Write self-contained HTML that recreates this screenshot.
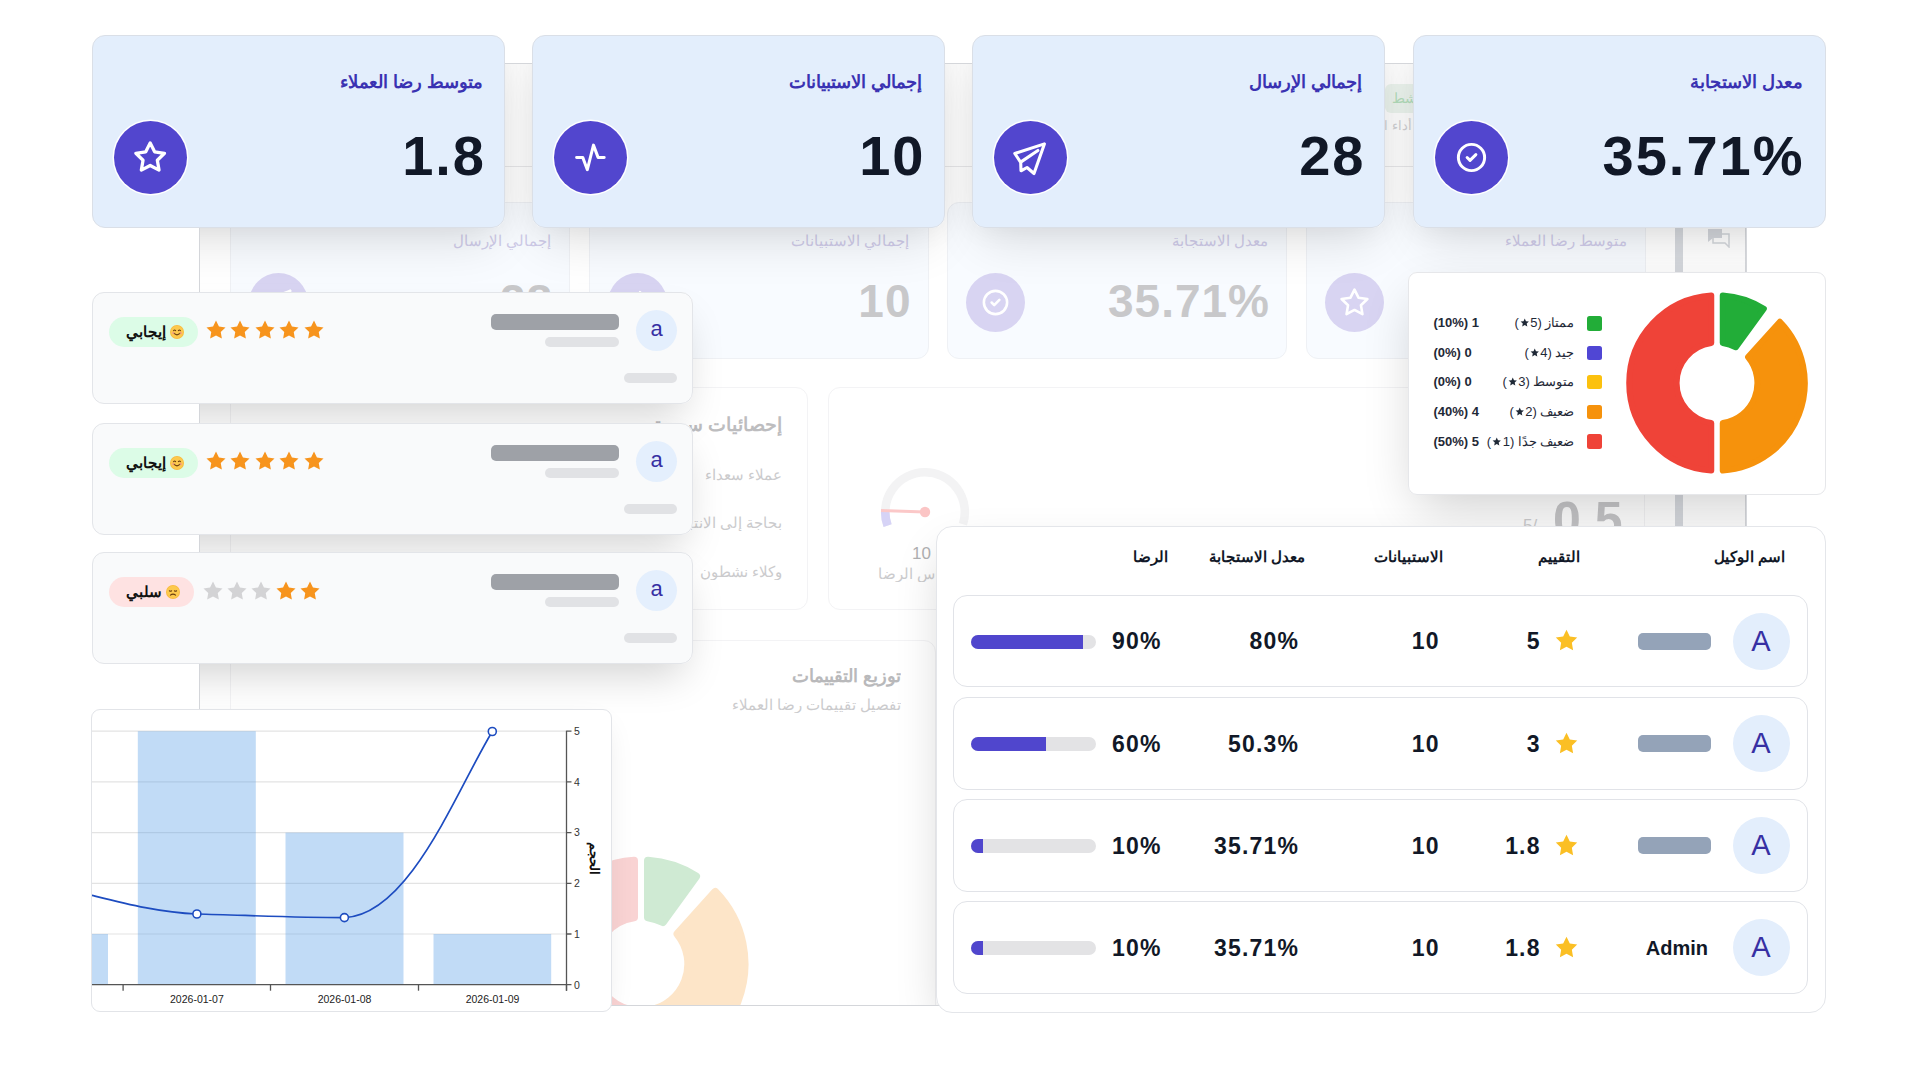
<!DOCTYPE html>
<html lang="ar">
<head>
<meta charset="utf-8">
<title>Dashboard</title>
<style>
*{box-sizing:border-box;margin:0;padding:0}
html,body{width:1920px;height:1067px;overflow:hidden;background:#fff}
body{position:relative;font-family:"Liberation Sans",sans-serif;color:#111827}
.abs{position:absolute}
.rtl{direction:rtl}
.ltr{direction:ltr;unicode-bidi:isolate}
/* background panel */
#panel{position:absolute;left:199px;top:63px;width:1548px;height:943px;overflow:hidden;background:#fff}

.pg{position:absolute;left:-199px;top:-63px;width:1920px;height:1067px}
.sc{position:absolute;background:#fff;box-shadow:0 22px 50px -10px rgba(0,0,0,.12),0 0 30px rgba(0,0,0,.06)}
.sc2{position:absolute;background:#fff;box-shadow:0 20px 40px -10px rgba(0,0,0,.18)}
.sc3{position:absolute;background:#fff;box-shadow:0 20px 50px -10px rgba(0,0,0,.2)}
.sc4{position:absolute;background:#fff;box-shadow:0 10px 30px -10px rgba(0,0,0,.12)}
.fc{position:absolute;top:202px;width:340px;height:157px;background:#f8fbff;border:1px solid #eff1f5;border-radius:12px}
.fc .ft{position:absolute;right:18px;top:29px;font-size:15px;color:#cfcbe9;direction:rtl;white-space:nowrap}
.fc .fn{position:absolute;right:16px;top:71px;font-size:46px;font-weight:700;color:#c8c8ca;direction:ltr;white-space:nowrap;letter-spacing:1px}
.fc .fi{position:absolute;left:18px;top:70px;width:59px;height:59px;border-radius:50%;background:#d8d4f2}
.fc .fi svg{position:absolute;left:14px;top:14px;width:31px;height:31px}
.fb{position:absolute;background:#fff;border:1px solid #f3f3f5;border-radius:12px}
#pborder{position:absolute;left:199px;top:63px;width:1548px;height:943px;border:1.5px solid #d4d6da;pointer-events:none}
.lg{font-size:13px;line-height:18px;color:#1f2937;direction:rtl;white-space:nowrap}
.lc{font-size:13px;line-height:18px;color:#1f2937;direction:ltr;white-space:nowrap;font-weight:700}
.th{position:absolute;top:547px;font-size:15px;font-weight:700;color:#111827;direction:rtl;white-space:nowrap;line-height:20px}
.tr{position:absolute;left:952.5px;width:855px;height:92.5px;background:#fff;border:1.5px solid #e1e3e8;border-radius:14px}
.tav{position:absolute;left:1732.5px;width:57px;height:57px;border-radius:50%;background:#e3eefc;color:#3730a3;font-size:29px;line-height:57px;text-align:center}
.tbar{position:absolute;left:1638px;width:72.5px;height:17px;border-radius:5px;background:#94a3b8}
.tname{position:absolute;right:212px;font-size:20px;font-weight:700;color:#111827;line-height:24px}
.tn{position:absolute;font-size:23px;font-weight:700;color:#111827;line-height:26px;direction:ltr;white-space:nowrap;letter-spacing:1.2px}
.tpb{position:absolute;left:970.5px;width:125px;height:14px;border-radius:7px;background:#e3e3e5;overflow:hidden}
.tpb div{height:100%;background:#5046cd}
/* top cards */
.tc{position:absolute;top:35px;width:413px;height:193px;background:#e3eefc;border:1.5px solid #dadfe7;border-radius:13px}
.tc .t{position:absolute;right:21px;top:35px;font-size:18px;font-weight:700;color:#3a32b2;direction:rtl;white-space:nowrap}
.tc .n{position:absolute;right:18px;top:87px;font-size:56px;font-weight:700;color:#111827;direction:ltr;white-space:nowrap;letter-spacing:2px}
.tc .ic{position:absolute;left:21px;top:85px;width:73px;height:73px;border-radius:50%;background:#5246ce;box-shadow:0 0 0 1.5px #fff}
.tc .ic svg{position:absolute}
/* review cards */
.rc{position:absolute;left:92px;width:601px;height:112px;background:#f9fafb;border:1.5px solid #e3e5e9;border-radius:12px}
.rc .av{position:absolute;left:543px;top:17px;width:41px;height:41px;border-radius:50%;background:#e4effd;color:#3730a3;font-size:22px;text-align:center;line-height:38px}
.rc .b1{position:absolute;left:398px;top:21px;width:128px;height:16px;border-radius:5px;background:#9ea1a7}
.rc .b2{position:absolute;left:452px;top:44px;width:74px;height:10px;border-radius:5px;background:#e1e2e5}
.rc .b3{position:absolute;left:531px;top:80px;width:53px;height:10px;border-radius:5px;background:#e1e2e5}
.rc .badge{position:absolute;left:16px;top:24px;height:30px;border-radius:15px;font-size:15px;font-weight:700;color:#111;direction:rtl;white-space:nowrap;line-height:30px;padding:0 14px 0 14px}
.rc .stars{position:absolute;left:111px;top:25.5px;height:24px}
.rc3 .stars{left:107.5px}
</style>
</head>
<body>

<div id="panel">
 <div class="pg">

  <!-- faded header bits -->
  <div class="abs rtl" style="left:1385px;top:84px;width:60px;height:29px;background:#edf5ef;border-radius:6px"></div>
  <div class="ar abs rtl" style="width:30px;overflow:hidden;right:499px;top:90px;font-size:14px;color:#b5dfbd;white-space:nowrap">نشط</div>
  <div class="ar abs rtl" style="width:60px;overflow:hidden;right:508px;top:118px;font-size:13px;color:#d2d2d5;white-space:nowrap">أداء الوكلاء</div>

  <div class="abs" style="left:229px;top:166px;width:1416px;height:1px;background:#e9e9eb"></div>
  <!-- faded stat cards -->
  <div class="fc" style="left:230px">
    <div class="ar ft" style="width:100px;overflow:hidden;">إجمالي الإرسال</div><div class="fn">28</div>
    <div class="fi"><svg viewBox="0 0 24 24" fill="none" stroke="#fff" stroke-width="2" stroke-linecap="round" stroke-linejoin="round"><path d="M10 14l11 -11"/><path d="M21 3l-6.5 18a.55 .55 0 0 1 -1 0l-3.5 -7l-7 -3.5a.55 .55 0 0 1 0 -1l18 -6.5"/></svg></div>
  </div>
  <div class="fc" style="left:588.5px">
    <div class="ar ft" style="width:120px;overflow:hidden;">إجمالي الاستبيانات</div><div class="fn">10</div>
    <div class="fi"><svg viewBox="0 0 24 24" fill="none" stroke="#fff" stroke-width="2" stroke-linecap="round" stroke-linejoin="round"><path d="M3 12h4l3 8l4 -16l3 8h4"/></svg></div>
  </div>
  <div class="fc" style="left:947px">
    <div class="ar ft" style="width:98px;overflow:hidden;">معدل الاستجابة</div><div class="fn">35.71%</div>
    <div class="fi"><svg viewBox="0 0 24 24" fill="none" stroke="#fff" stroke-width="2" stroke-linecap="round" stroke-linejoin="round"><path d="M3 12a9 9 0 1 0 18 0a9 9 0 1 0 -18 0"/><path d="M9 12l2 2l4 -4"/></svg></div>
  </div>
  <div class="fc" style="left:1306px">
    <div class="ar ft" style="width:124px;overflow:hidden;">متوسط رضا العملاء</div><div class="fn">1.8</div>
    <div class="fi"><svg viewBox="0 0 24 24" fill="none" stroke="#fff" stroke-width="2" stroke-linecap="round" stroke-linejoin="round"><path d="M12 17.75l-6.172 3.245l1.179 -6.873l-5 -4.867l6.9 -1l3.086 -6.253l3.086 6.253l6.9 1l-5 4.867l1.179 6.873z"/></svg></div>
  </div>

  <!-- quick stats card -->
  <div class="fb" style="left:230px;top:387px;width:578px;height:223px">
    <div class="ar abs rtl" style="width:131px;overflow:hidden;right:25px;top:25px;font-size:19px;font-weight:700;color:#bdbdbf;white-space:nowrap">إحصائيات سريعة</div>
    <div class="ar abs rtl" style="width:79px;overflow:hidden;right:25px;top:79px;font-size:14.5px;color:#cbcbcd;white-space:nowrap">عملاء سعداء</div>
    <div class="ar abs rtl" style="width:108px;overflow:hidden;right:25px;top:127px;font-size:14.5px;color:#cbcbcd;white-space:nowrap">بحاجة إلى الانتباه</div>
    <div class="ar abs rtl" style="width:84px;overflow:hidden;right:25px;top:176px;font-size:14.5px;color:#cbcbcd;white-space:nowrap">وكلاء نشطون</div>
  </div>
  <!-- gauge card -->
  <div class="fb" style="left:828px;top:387px;width:817px;height:223px">
    <svg class="abs" style="left:40px;top:68px" width="112" height="112" viewBox="-56 -56 112 112">
      <path d="M -37.4 13.6 A 39.8 39.8 0 1 1 37.9 12.3" fill="none" stroke="#f3f3f4" stroke-width="8.6"/>
      <path d="M -37.4 13.6 A 39.8 39.8 0 0 1 -39.8 0" fill="none" stroke="#d6d3f6" stroke-width="8.6"/>
      <line x1="0" y1="0" x2="-44" y2="-1.5" stroke="#fbc8c8" stroke-width="3"/>
      <circle cx="0" cy="0" r="5.2" fill="#fbc5c5"/>
    </svg>
    <div class="abs" style="left:83px;top:156px;font-size:17px;color:#b0b0b2;white-space:nowrap">10</div>
    <div class="ar abs rtl" style="width:85px;overflow:hidden;right:683px;top:178px;font-size:14.5px;color:#cbcbcd;white-space:nowrap">مقياس الرضا</div>
    <div class="abs" style="left:724px;top:103px;font-size:50px;font-weight:700;color:#c6c6c8;white-space:nowrap;direction:ltr">0.5</div>
    <div class="abs" style="left:694px;top:128px;font-size:17px;color:#cfcfd1;white-space:nowrap;direction:ltr">5/</div>
  </div>

  <!-- rating distribution card -->
  <div class="fb" style="left:230px;top:640px;width:706px;height:400px">
    <div class="ar abs rtl" style="width:111px;overflow:hidden;right:34px;top:24px;font-size:18px;font-weight:700;color:#b9b9bb;white-space:nowrap">توزيع التقييمات</div>
    <div class="ar abs rtl" style="width:171px;overflow:hidden;right:34px;top:56px;font-size:14.5px;color:#cbcbcd;white-space:nowrap">تفصيل تقييمات رضا العملاء</div>
    <svg class="abs" style="left:290px;top:203px" width="240" height="240" viewBox="-120 -120 240 240">
      <g stroke-width="8" stroke-linejoin="round"><path d="M7.00 -103.26A103.50 103.50 0 0 1 55.03 -87.66L21.83 -41.96A47.30 47.30 0 0 0 7.00 -46.78Z" fill="#cfead3" stroke="#cfead3"/><path d="M74.30 -72.06A103.50 103.50 0 0 1 7.00 103.26L7.00 46.78A47.30 47.30 0 0 0 36.50 -30.08Z" fill="#fde5c8" stroke="#fde5c8"/><path d="M-7.00 103.26A103.50 103.50 0 0 1 -7.00 -103.26L-7.00 -46.78A47.30 47.30 0 0 0 -7.00 46.78Z" fill="#f9d3d3" stroke="#f9d3d3"/></g>
    </svg>
  </div>

  <!-- sidebar -->
  <div class="abs" style="left:1675px;top:63px;width:7.5px;height:943px;background:#d6d9de"></div>
  <div class="abs" style="left:1745px;top:63px;width:2px;height:943px;background:#d8dade"></div>
  <svg class="abs" style="left:1707px;top:228px" width="24" height="20" viewBox="0 0 24 20"><path d="M1 1h14v9h-9l-5 4z" fill="#d4d7dc"/><path d="M6 6h16v9v4l-4 -4h-12z" fill="none" stroke="#d4d7dc" stroke-width="1.5"/></svg>

  <!-- more shadow casters -->
  <div class="sc" style="left:92px;top:35px;width:413px;height:193px;border-radius:13px"></div>
  <div class="sc" style="left:531.5px;top:35px;width:413px;height:193px;border-radius:13px"></div>
  <div class="sc" style="left:971.5px;top:35px;width:413px;height:193px;border-radius:13px"></div>
  <div class="sc" style="left:1412.5px;top:35px;width:413px;height:193px;border-radius:13px"></div>
  <div class="sc2" style="left:92px;top:291.5px;width:601px;height:112px;border-radius:12px"></div>
  <div class="sc2" style="left:92px;top:422.5px;width:601px;height:112px;border-radius:12px"></div>
  <div class="sc2" style="left:92px;top:552px;width:601px;height:112px;border-radius:12px"></div>
  <div class="sc3" style="left:1407.5px;top:271.5px;width:418px;height:223px;border-radius:9px"></div>
  <div class="sc3" style="left:936px;top:525.5px;width:889px;height:487px;border-radius:16px"></div>
  <div class="sc4" style="left:90.5px;top:709px;width:521px;height:303px;border-radius:9px"></div>
 </div>
</div>

<div id="pborder"></div>

<!-- TOP CARDS -->
<div class="tc" style="left:92px">
  <div class="ar t" style="width:145px;overflow:hidden;">متوسط رضا العملاء</div>
  <div class="n">1.8</div>
  <div class="ic"><svg style="left:19.3px;top:19.3px;width:34.4px;height:34.4px" viewBox="0 0 24 24" fill="none" stroke="#fff" stroke-width="2.3" stroke-linecap="round" stroke-linejoin="round"><path d="M12 17.75l-6.172 3.245l1.179 -6.873l-5 -4.867l6.9 -1l3.086 -6.253l3.086 6.253l6.9 1l-5 4.867l1.179 6.873z"/></svg></div>
</div>
<div class="tc" style="left:531.5px">
  <div class="ar t" style="width:135px;overflow:hidden;">إجمالي الاستبيانات</div>
  <div class="n">10</div>
  <div class="ic"><svg style="left:18.1px;top:18.1px;width:36.8px;height:36.8px" viewBox="0 0 24 24" fill="none" stroke="#fff" stroke-width="1.95" stroke-linecap="round" stroke-linejoin="round"><path d="M3 12h4l3 8l4 -16l3 8h4"/></svg></div>
</div>
<div class="tc" style="left:971.5px">
  <div class="ar t" style="width:115px;overflow:hidden;">إجمالي الإرسال</div>
  <div class="n">28</div>
  <div class="ic"><svg style="left:16.5px;top:16.5px;width:40px;height:40px" viewBox="-20 -20 40 40" fill="none" stroke="#fff" stroke-width="3.1" stroke-linecap="round" stroke-linejoin="round"><path d="M14.4 -14.1L-15.2 -4.5L-9.3 4.3L-9 12.8L-3 9.5L4 15.5Z"/><path d="M7.9 -7.5L-8.6 3.6"/></svg></div>
</div>
<div class="tc" style="left:1412.5px">
  <div class="ar t" style="width:115px;overflow:hidden;">معدل الاستجابة</div>
  <div class="n" style="right:20px">35.71%</div>
  <div class="ic"><svg style="left:19.0px;top:19.0px;width:35px;height:35px" viewBox="0 0 24 24" fill="none" stroke="#fff" stroke-width="2.05" stroke-linecap="round" stroke-linejoin="round"><path d="M3 12a9 9 0 1 0 18 0a9 9 0 1 0 -18 0"/><path d="M9 12l2 2l4 -4"/></svg></div>
</div>


<!-- REVIEW CARDS -->
<div class="rc" style="top:291.5px">
  <div class="av">a</div>
  <div class="b1"></div><div class="b2"></div><div class="b3"></div>
  <div class="ar badge" style="width:89px;overflow:hidden;background:#dcfce7"><span class="face"><svg width="14" height="14" viewBox="0 0 14 14" style="vertical-align:-2px"><circle cx="7" cy="7" r="7" fill="#f9b93e"/><circle cx="7" cy="7" r="6.2" fill="#fcc94d"/><path d="M3.6 5.6q1 -1.2 2 0M8.4 5.6q1 -1.2 2 0" stroke="#6b3e0f" stroke-width="1.1" fill="none" stroke-linecap="round"/><path d="M3.8 8.2q3.2 3.2 6.4 0" stroke="#6b3e0f" stroke-width="1.1" fill="none" stroke-linecap="round"/><circle cx="3.2" cy="8" r="1.2" fill="#f79a8f" opacity=".7"/><circle cx="10.8" cy="8" r="1.2" fill="#f79a8f" opacity=".7"/></svg></span> إيجابي</div>
  <div class="stars"><svg class="abs" style="left:0.0px;top:0" width="24" height="24" viewBox="0 0 24 24"><path d="M12 2.5l2.94 5.96 6.56.95-4.75 4.63 1.12 6.54L12 17.5l-5.87 3.08 1.12-6.54L2.5 9.41l6.56-.95z" fill="#f7941d"/></svg><svg class="abs" style="left:24.4px;top:0" width="24" height="24" viewBox="0 0 24 24"><path d="M12 2.5l2.94 5.96 6.56.95-4.75 4.63 1.12 6.54L12 17.5l-5.87 3.08 1.12-6.54L2.5 9.41l6.56-.95z" fill="#f7941d"/></svg><svg class="abs" style="left:48.8px;top:0" width="24" height="24" viewBox="0 0 24 24"><path d="M12 2.5l2.94 5.96 6.56.95-4.75 4.63 1.12 6.54L12 17.5l-5.87 3.08 1.12-6.54L2.5 9.41l6.56-.95z" fill="#f7941d"/></svg><svg class="abs" style="left:73.2px;top:0" width="24" height="24" viewBox="0 0 24 24"><path d="M12 2.5l2.94 5.96 6.56.95-4.75 4.63 1.12 6.54L12 17.5l-5.87 3.08 1.12-6.54L2.5 9.41l6.56-.95z" fill="#f7941d"/></svg><svg class="abs" style="left:97.6px;top:0" width="24" height="24" viewBox="0 0 24 24"><path d="M12 2.5l2.94 5.96 6.56.95-4.75 4.63 1.12 6.54L12 17.5l-5.87 3.08 1.12-6.54L2.5 9.41l6.56-.95z" fill="#f7941d"/></svg></div>
</div>
<div class="rc" style="top:422.5px">
  <div class="av">a</div>
  <div class="b1"></div><div class="b2"></div><div class="b3"></div>
  <div class="ar badge" style="width:89px;overflow:hidden;background:#dcfce7"><span class="face"><svg width="14" height="14" viewBox="0 0 14 14" style="vertical-align:-2px"><circle cx="7" cy="7" r="7" fill="#f9b93e"/><circle cx="7" cy="7" r="6.2" fill="#fcc94d"/><path d="M3.6 5.6q1 -1.2 2 0M8.4 5.6q1 -1.2 2 0" stroke="#6b3e0f" stroke-width="1.1" fill="none" stroke-linecap="round"/><path d="M3.8 8.2q3.2 3.2 6.4 0" stroke="#6b3e0f" stroke-width="1.1" fill="none" stroke-linecap="round"/><circle cx="3.2" cy="8" r="1.2" fill="#f79a8f" opacity=".7"/><circle cx="10.8" cy="8" r="1.2" fill="#f79a8f" opacity=".7"/></svg></span> إيجابي</div>
  <div class="stars"><svg class="abs" style="left:0.0px;top:0" width="24" height="24" viewBox="0 0 24 24"><path d="M12 2.5l2.94 5.96 6.56.95-4.75 4.63 1.12 6.54L12 17.5l-5.87 3.08 1.12-6.54L2.5 9.41l6.56-.95z" fill="#f7941d"/></svg><svg class="abs" style="left:24.4px;top:0" width="24" height="24" viewBox="0 0 24 24"><path d="M12 2.5l2.94 5.96 6.56.95-4.75 4.63 1.12 6.54L12 17.5l-5.87 3.08 1.12-6.54L2.5 9.41l6.56-.95z" fill="#f7941d"/></svg><svg class="abs" style="left:48.8px;top:0" width="24" height="24" viewBox="0 0 24 24"><path d="M12 2.5l2.94 5.96 6.56.95-4.75 4.63 1.12 6.54L12 17.5l-5.87 3.08 1.12-6.54L2.5 9.41l6.56-.95z" fill="#f7941d"/></svg><svg class="abs" style="left:73.2px;top:0" width="24" height="24" viewBox="0 0 24 24"><path d="M12 2.5l2.94 5.96 6.56.95-4.75 4.63 1.12 6.54L12 17.5l-5.87 3.08 1.12-6.54L2.5 9.41l6.56-.95z" fill="#f7941d"/></svg><svg class="abs" style="left:97.6px;top:0" width="24" height="24" viewBox="0 0 24 24"><path d="M12 2.5l2.94 5.96 6.56.95-4.75 4.63 1.12 6.54L12 17.5l-5.87 3.08 1.12-6.54L2.5 9.41l6.56-.95z" fill="#f7941d"/></svg></div>
</div>
<div class="rc rc3" style="top:552px">
  <div class="av">a</div>
  <div class="b1"></div><div class="b2"></div><div class="b3"></div>
  <div class="ar badge" style="width:85px;overflow:hidden;background:#fee2e2"><span class="face"><svg width="14" height="14" viewBox="0 0 14 14" style="vertical-align:-2px"><circle cx="7" cy="7" r="7" fill="#f9b93e"/><circle cx="7" cy="7" r="6.2" fill="#fcc94d"/><path d="M3.4 5.8q1.1 .9 2.2 0M8.4 5.8q1.1 .9 2.2 0" stroke="#6b3e0f" stroke-width="1.1" fill="none" stroke-linecap="round"/><path d="M4.4 10.2q2.6 -2.2 5.2 0" stroke="#6b3e0f" stroke-width="1.1" fill="none" stroke-linecap="round"/></svg></span> سلبي</div>
  <div class="stars"><svg class="abs" style="left:0.0px;top:0" width="24" height="24" viewBox="0 0 24 24"><path d="M12 2.5l2.94 5.96 6.56.95-4.75 4.63 1.12 6.54L12 17.5l-5.87 3.08 1.12-6.54L2.5 9.41l6.56-.95z" fill="#d3d3d5"/></svg><svg class="abs" style="left:24.4px;top:0" width="24" height="24" viewBox="0 0 24 24"><path d="M12 2.5l2.94 5.96 6.56.95-4.75 4.63 1.12 6.54L12 17.5l-5.87 3.08 1.12-6.54L2.5 9.41l6.56-.95z" fill="#d3d3d5"/></svg><svg class="abs" style="left:48.8px;top:0" width="24" height="24" viewBox="0 0 24 24"><path d="M12 2.5l2.94 5.96 6.56.95-4.75 4.63 1.12 6.54L12 17.5l-5.87 3.08 1.12-6.54L2.5 9.41l6.56-.95z" fill="#d3d3d5"/></svg><svg class="abs" style="left:73.2px;top:0" width="24" height="24" viewBox="0 0 24 24"><path d="M12 2.5l2.94 5.96 6.56.95-4.75 4.63 1.12 6.54L12 17.5l-5.87 3.08 1.12-6.54L2.5 9.41l6.56-.95z" fill="#f7941d"/></svg><svg class="abs" style="left:97.6px;top:0" width="24" height="24" viewBox="0 0 24 24"><path d="M12 2.5l2.94 5.96 6.56.95-4.75 4.63 1.12 6.54L12 17.5l-5.87 3.08 1.12-6.54L2.5 9.41l6.56-.95z" fill="#f7941d"/></svg></div>
</div>

<!-- DONUT CARD -->
<div class="abs" style="left:1407.5px;top:271.5px;width:418px;height:223px;background:#fff;border:1.5px solid #e6e7ea;border-radius:9px">
  <svg class="abs" style="left:207.8px;top:9.2px" width="202" height="202" viewBox="-101 -101 202 202"><g stroke-width="6.0" stroke-linejoin="round"><path d="M5.75 -87.61A87.80 87.80 0 0 1 46.84 -74.26L18.85 -35.73A40.40 40.40 0 0 0 5.75 -39.99Z" fill="#22ad38" stroke="#22ad38"/><path d="M62.90 -61.26A87.80 87.80 0 0 1 5.75 87.61L5.75 39.99A40.40 40.40 0 0 0 31.03 -25.87Z" fill="#f6920c" stroke="#f6920c"/><path d="M-5.75 87.61A87.80 87.80 0 0 1 -5.75 -87.61L-5.75 -39.99A40.40 40.40 0 0 0 -5.75 39.99Z" fill="#ef4338" stroke="#ef4338"/></g></svg>
  <div class="abs" style="left:178.5px;top:43.5px;width:14.5px;height:14.5px;border-radius:2.5px;background:#22ad38"></div><div class="ar abs lg" style="width:62px;overflow:hidden;right:250px;top:41.7px">ممتاز <span class="ltr">(<svg width="9.5" height="9.5" viewBox="0 0 24 24" style="vertical-align:-0.5px;margin:0 1px"><path d="M12 1.5l3.1 6.9 7.4.7-5.6 5 1.6 7.4L12 17.7l-6.5 3.8 1.6-7.4-5.6-5 7.4-.7z" fill="#1f2937"/></svg>5)</span></div><div class="abs lc" style="left:25px;top:41.7px">(10%) 1</div><div class="abs" style="left:178.5px;top:73.0px;width:14.5px;height:14.5px;border-radius:2.5px;background:#5046d4"></div><div class="ar abs lg" style="width:52px;overflow:hidden;right:250px;top:71.2px">جيد <span class="ltr">(<svg width="9.5" height="9.5" viewBox="0 0 24 24" style="vertical-align:-0.5px;margin:0 1px"><path d="M12 1.5l3.1 6.9 7.4.7-5.6 5 1.6 7.4L12 17.7l-6.5 3.8 1.6-7.4-5.6-5 7.4-.7z" fill="#1f2937"/></svg>4)</span></div><div class="abs lc" style="left:25px;top:71.2px">(0%) 0</div><div class="abs" style="left:178.5px;top:102.2px;width:14.5px;height:14.5px;border-radius:2.5px;background:#fcc10e"></div><div class="ar abs lg" style="width:74px;overflow:hidden;right:250px;top:100.5px">متوسط <span class="ltr">(<svg width="9.5" height="9.5" viewBox="0 0 24 24" style="vertical-align:-0.5px;margin:0 1px"><path d="M12 1.5l3.1 6.9 7.4.7-5.6 5 1.6 7.4L12 17.7l-6.5 3.8 1.6-7.4-5.6-5 7.4-.7z" fill="#1f2937"/></svg>3)</span></div><div class="abs lc" style="left:25px;top:100.5px">(0%) 0</div><div class="abs" style="left:178.5px;top:132.4px;width:14.5px;height:14.5px;border-radius:2.5px;background:#f6920c"></div><div class="ar abs lg" style="width:67px;overflow:hidden;right:250px;top:130.7px">ضعيف <span class="ltr">(<svg width="9.5" height="9.5" viewBox="0 0 24 24" style="vertical-align:-0.5px;margin:0 1px"><path d="M12 1.5l3.1 6.9 7.4.7-5.6 5 1.6 7.4L12 17.7l-6.5 3.8 1.6-7.4-5.6-5 7.4-.7z" fill="#1f2937"/></svg>2)</span></div><div class="abs lc" style="left:25px;top:130.7px">(40%) 4</div><div class="abs" style="left:178.5px;top:161.8px;width:14.5px;height:14.5px;border-radius:2.5px;background:#ef4338"></div><div class="ar abs lg" style="width:89px;overflow:hidden;right:250px;top:160.1px">ضعيف جدًا <span class="ltr">(<svg width="9.5" height="9.5" viewBox="0 0 24 24" style="vertical-align:-0.5px;margin:0 1px"><path d="M12 1.5l3.1 6.9 7.4.7-5.6 5 1.6 7.4L12 17.7l-6.5 3.8 1.6-7.4-5.6-5 7.4-.7z" fill="#1f2937"/></svg>1)</span></div><div class="abs lc" style="left:25px;top:160.1px">(50%) 5</div>
</div>

<!-- TABLE CARD -->
<div class="abs" style="left:936px;top:525.5px;width:889.5px;height:487px;background:#fff;border:1.5px solid #e4e6ea;border-radius:16px"></div>
<div class="ar th" style="width:73px;overflow:hidden;right:135.0px">اسم الوكيل</div>
<div class="ar th" style="width:43px;overflow:hidden;right:340.5px">التقييم</div>
<div class="ar th" style="width:70px;overflow:hidden;right:477.3px">الاستبيانات</div>
<div class="ar th" style="width:98px;overflow:hidden;right:614.6px">معدل الاستجابة</div>
<div class="ar th" style="width:36px;overflow:hidden;right:752.2px">الرضا</div>
<div class="tr" style="top:594.5px"></div>
<div class="tav" style="top:612.5px">A</div>
<div class="tbar" style="top:632.5px"></div>
<svg class="abs" style="left:1552.5px;top:627.0px" width="27" height="27" viewBox="0 0 24 24"><path d="M12 2.5l2.94 5.96 6.56.95-4.75 4.63 1.12 6.54L12 17.5l-5.87 3.08 1.12-6.54L2.5 9.41l6.56-.95z" fill="#fbbf24"/></svg>
<div class="tn" style="right:379.3px;top:628.0px">5</div>
<div class="tn" style="right:480.3px;top:628.0px">10</div>
<div class="tn" style="right:620.8px;top:628.0px">80%</div>
<div class="tn" style="right:758.3px;top:628.0px">90%</div>
<div class="tpb" style="top:634.5px"><div style="width:90%"></div></div>
<div class="tr" style="top:697px"></div>
<div class="tav" style="top:715.0px">A</div>
<div class="tbar" style="top:735.0px"></div>
<svg class="abs" style="left:1552.5px;top:729.5px" width="27" height="27" viewBox="0 0 24 24"><path d="M12 2.5l2.94 5.96 6.56.95-4.75 4.63 1.12 6.54L12 17.5l-5.87 3.08 1.12-6.54L2.5 9.41l6.56-.95z" fill="#fbbf24"/></svg>
<div class="tn" style="right:379.3px;top:730.5px">3</div>
<div class="tn" style="right:480.3px;top:730.5px">10</div>
<div class="tn" style="right:620.8px;top:730.5px">50.3%</div>
<div class="tn" style="right:758.3px;top:730.5px">60%</div>
<div class="tpb" style="top:737.0px"><div style="width:60%"></div></div>
<div class="tr" style="top:799px"></div>
<div class="tav" style="top:817.0px">A</div>
<div class="tbar" style="top:837.0px"></div>
<svg class="abs" style="left:1552.5px;top:831.5px" width="27" height="27" viewBox="0 0 24 24"><path d="M12 2.5l2.94 5.96 6.56.95-4.75 4.63 1.12 6.54L12 17.5l-5.87 3.08 1.12-6.54L2.5 9.41l6.56-.95z" fill="#fbbf24"/></svg>
<div class="tn" style="right:379.3px;top:832.5px">1.8</div>
<div class="tn" style="right:480.3px;top:832.5px">10</div>
<div class="tn" style="right:620.8px;top:832.5px">35.71%</div>
<div class="tn" style="right:758.3px;top:832.5px">10%</div>
<div class="tpb" style="top:839.0px"><div style="width:10%"></div></div>
<div class="tr" style="top:901px"></div>
<div class="tav" style="top:919.0px">A</div>
<div class="tname" style="top:935.5px">Admin</div>
<svg class="abs" style="left:1552.5px;top:933.5px" width="27" height="27" viewBox="0 0 24 24"><path d="M12 2.5l2.94 5.96 6.56.95-4.75 4.63 1.12 6.54L12 17.5l-5.87 3.08 1.12-6.54L2.5 9.41l6.56-.95z" fill="#fbbf24"/></svg>
<div class="tn" style="right:379.3px;top:934.5px">1.8</div>
<div class="tn" style="right:480.3px;top:934.5px">10</div>
<div class="tn" style="right:620.8px;top:934.5px">35.71%</div>
<div class="tn" style="right:758.3px;top:934.5px">10%</div>
<div class="tpb" style="top:941.0px"><div style="width:10%"></div></div>

<!-- CHART CARD -->
<div class="abs" style="left:90.5px;top:709.3px;width:521.5px;height:303px;background:#fff;border:1px solid #e2e4e8;border-radius:9px;overflow:hidden">
<svg class="abs" style="left:-1px;top:-1px" width="521.5" height="303" viewBox="0 0 521.5 303" font-family="Liberation Sans, sans-serif"><line x1="0" y1="225.0" x2="475.5" y2="225.0" stroke="#e3e3e3" stroke-width="1.2"/><line x1="0" y1="174.3" x2="475.5" y2="174.3" stroke="#e3e3e3" stroke-width="1.2"/><line x1="0" y1="123.6" x2="475.5" y2="123.6" stroke="#e3e3e3" stroke-width="1.2"/><line x1="0" y1="72.9" x2="475.5" y2="72.9" stroke="#e3e3e3" stroke-width="1.2"/><line x1="0" y1="22.2" x2="475.5" y2="22.2" stroke="#e3e3e3" stroke-width="1.2"/><rect x="0.0" y="225.0" width="17.0" height="50.7" fill="rgba(92,160,232,.38)"/><rect x="46.8" y="22.2" width="118.0" height="253.5" fill="rgba(92,160,232,.38)"/><rect x="194.5" y="123.6" width="118.0" height="152.1" fill="rgba(92,160,232,.38)"/><rect x="342.5" y="225.0" width="117.7" height="50.7" fill="rgba(92,160,232,.38)"/><line x1="0" y1="275.7" x2="476.0" y2="275.7" stroke="#555" stroke-width="1.3"/><line x1="475.5" y1="21.7" x2="475.5" y2="281.7" stroke="#555" stroke-width="1.3"/><line x1="32.1" y1="275.7" x2="32.1" y2="281.7" stroke="#555" stroke-width="1.3"/><line x1="179.5" y1="275.7" x2="179.5" y2="281.7" stroke="#555" stroke-width="1.3"/><line x1="327.5" y1="275.7" x2="327.5" y2="281.7" stroke="#555" stroke-width="1.3"/><line x1="475.5" y1="275.7" x2="475.5" y2="281.7" stroke="#555" stroke-width="1.3"/><line x1="475.5" y1="275.7" x2="480.5" y2="275.7" stroke="#555" stroke-width="1.3"/><text x="483.0" y="279.5" font-size="10.5" fill="#333">0</text><line x1="475.5" y1="225.0" x2="480.5" y2="225.0" stroke="#555" stroke-width="1.3"/><text x="483.0" y="228.8" font-size="10.5" fill="#333">1</text><line x1="475.5" y1="174.3" x2="480.5" y2="174.3" stroke="#555" stroke-width="1.3"/><text x="483.0" y="178.1" font-size="10.5" fill="#333">2</text><line x1="475.5" y1="123.6" x2="480.5" y2="123.6" stroke="#555" stroke-width="1.3"/><text x="483.0" y="127.4" font-size="10.5" fill="#333">3</text><line x1="475.5" y1="72.9" x2="480.5" y2="72.9" stroke="#555" stroke-width="1.3"/><text x="483.0" y="76.7" font-size="10.5" fill="#333">4</text><line x1="475.5" y1="22.2" x2="480.5" y2="22.2" stroke="#555" stroke-width="1.3"/><text x="483.0" y="26.0" font-size="10.5" fill="#333">5</text><text x="105.9" y="294.2" font-size="10.5" fill="#222" text-anchor="middle">2026-01-07</text><text x="253.5" y="294.2" font-size="10.5" fill="#222" text-anchor="middle">2026-01-08</text><text x="401.5" y="294.2" font-size="10.5" fill="#222" text-anchor="middle">2026-01-09</text><path d="M0.3 186.2C34.5 194.7 69.5 203.7 105.9 205.0C154.5 206.2 204.5 208.6 253.4 208.6C319.0 205.9 365.8 80.8 401.3 22.5" fill="none" stroke="#1d4cc0" stroke-width="1.7"/><circle cx="105.9" cy="205.0" r="4" fill="#fff" stroke="#1d4cc0" stroke-width="1.6"/><circle cx="253.4" cy="208.6" r="4" fill="#fff" stroke="#1d4cc0" stroke-width="1.6"/><circle cx="401.3" cy="22.5" r="4" fill="#fff" stroke="#1d4cc0" stroke-width="1.6"/><text transform="translate(498.5 149.7) rotate(90)" font-size="12.5" fill="#111" text-anchor="middle" font-weight="700">الحجم</text></svg>
</div>
</body>
</html>
